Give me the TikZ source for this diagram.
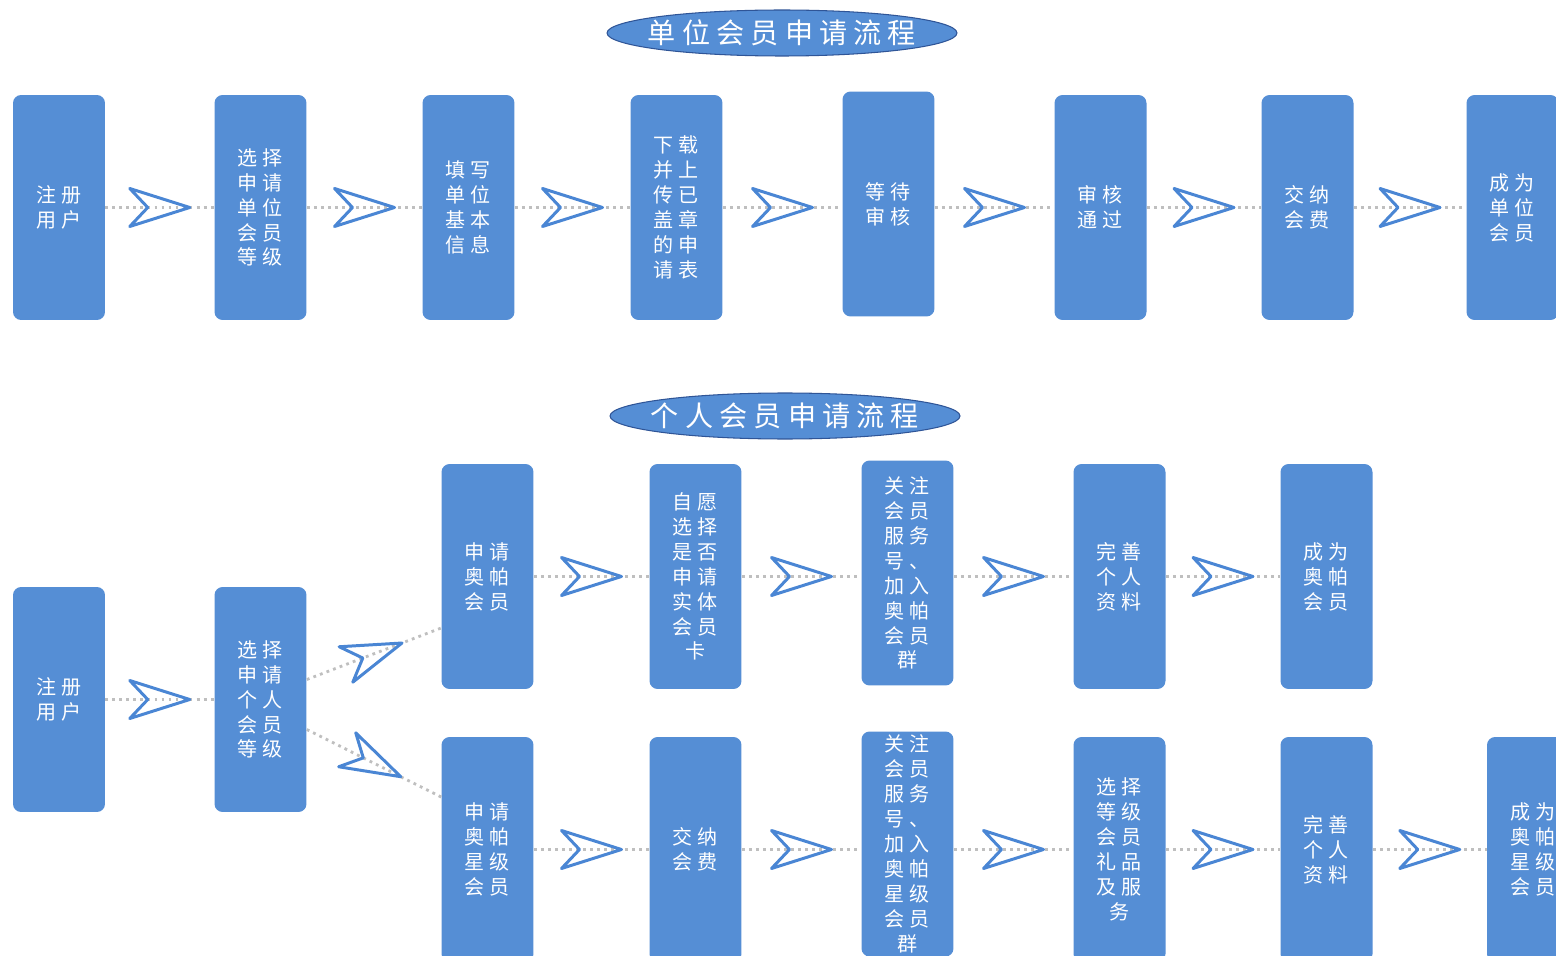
\documentclass[tikz,border=0pt]{standalone}
\usepackage{fontspec}
\setmainfont{Noto Sans CJK SC}
\newfontfamily\boxfont[LetterSpace=25]{Noto Sans CJK SC}
\newfontfamily\headfont[LetterSpace=22]{Noto Sans CJK SC}
\usetikzlibrary{shapes.geometric}
\definecolor{boxblue}{RGB}{85,142,213}
\definecolor{planeblue}{RGB}{74,134,212}
\definecolor{rimblue}{RGB}{47,85,151}
\definecolor{dotgray}{RGB}{191,191,191}
\tikzset{
	stage/.style={rectangle,rounded corners=0.16cm,fill=boxblue,text=white,align=center,
		minimum width=1.84cm,minimum height=4.5cm,inner sep=0pt,
		font=\boxfont\fontsize{11.4}{14.2}\selectfont},
	headline/.style={ellipse,fill=boxblue,draw=rimblue,line width=0.6pt,text=white,
		minimum width=7cm,minimum height=0.92cm,inner xsep=-0.3cm,inner ysep=0pt,
		font=\headfont\fontsize{16}{18}\selectfont},
	link/.style={draw=dotgray,line width=1.6pt,dash pattern=on 1.6pt off 2.4pt},
	planeline/.style={draw=planeblue,solid,line width=1.7pt,line join=round,fill=none},
	plane/.pic={\path[planeline] (0.6cm,0) -- (-0.6cm,0.38cm) -- (-0.24cm,0) -- (-0.6cm,-0.38cm) -- cycle;}
}

\begin{document}
\begin{tikzpicture}[x=0.02cm,y=-0.02cm]
	\useasboundingbox (0,0) rectangle (1556,956);

	% unit members
	\node[headline] (t1) at (782,33) {单位会员申请流程};
	\node[stage] (c1) at (59,207.5)   {注册\\用户};
	\node[stage] (c2) at (260.5,207.5) {选择\\申请\\单位\\会员\\等级};
	\node[stage] (c3) at (468.5,207.5) {填写\\单位\\基本\\信息};
	\node[stage] (c4) at (676.5,207.5) {下载\\并上\\传已\\盖章\\的申\\请表};
	\node[stage] (c5) at (888.5,204)   {等待\\审核};
	\node[stage] (c6) at (1100.5,207.5) {审核\\通过};
	\node[stage] (c7) at (1307.5,207.5) {交纳\\会费};
	\node[stage] (c8) at (1512.5,207.5) {成为\\单位\\会员};

	% personal members
	\node[headline] (t2) at (785,416) {个人会员申请流程};
	\node[stage] (p1) at (59,699.5)    {注册\\用户};
	\node[stage] (p2) at (260.5,699.5) {选择\\申请\\个人\\会员\\等级};
	\node[stage] (u1) at (487.5,576.5)  {申请\\奥帕\\会员};
	\node[stage] (u2) at (695.5,576.5)  {自愿\\选择\\是否\\申请\\实体\\会员\\卡};
	\node[stage] (u3) at (907.5,573)    {关注\\会员\\服务\\号、\\加入\\奥帕\\会员\\群};
	\node[stage] (u4) at (1119.5,576.5) {完善\\个人\\资料};
	\node[stage] (u5) at (1326.5,576.5) {成为\\奥帕\\会员};
	\node[stage] (l1) at (487.5,849.5)  {申请\\奥帕\\星级\\会员};
	\node[stage] (l2) at (695.5,849.5)  {交纳\\会费};
	\node[stage] (l3) at (907.5,844)    {关注\\会员\\服务\\号、\\加入\\奥帕\\星级\\会员\\群};
	\node[stage] (l4) at (1119.5,849.5) {选择\\等级\\会员\\礼品\\及服\\务};
	\node[stage] (l5) at (1326.5,849.5) {完善\\个人\\资料};
	\node[stage] (l6) at (1533,849.5)   {成为\\奥帕\\星级\\会员};

	% connectors, each row at the height of its first box
	\foreach \a/\b/\r in {c1/c2/c1,c2/c3/c1,c3/c4/c1,c4/c5/c1,c5/c6/c1,c6/c7/c1,c7/c8/c1,
			p1/p2/p1,u1/u2/u1,u2/u3/u1,u3/u4/u1,u4/u5/u1,
			l1/l2/l1,l2/l3/l1,l3/l4/l1,l4/l5/l1,l5/l6/l1}
		\path[link] (\a.east |- \r) -- (\b.west |- \r) pic[pos=0.5,sloped]{plane};
	\path[link] ([yshift=0.4cm]p2.east) -- ([yshift=-1.03cm]u1.west) pic[pos=0.5,sloped]{plane};
	\path[link] ([yshift=-0.6cm]p2.east) -- ([yshift=1.05cm]l1.west) pic[pos=0.5,sloped]{plane};
\end{tikzpicture}
\end{document}
